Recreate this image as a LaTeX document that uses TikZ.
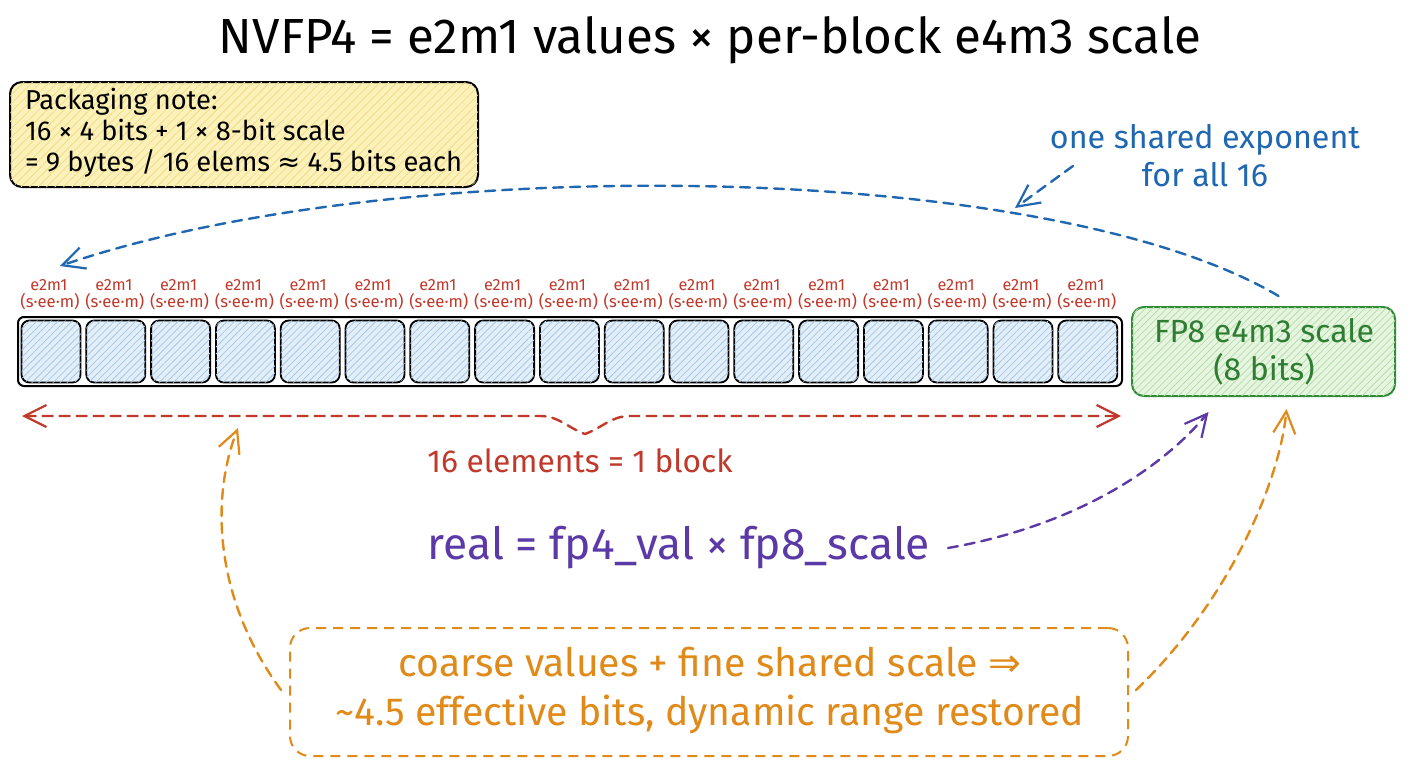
\documentclass[tikz,border=0pt]{standalone}
\usepackage{fontspec}
\setmainfont{Fira Sans}
\newfontfamily\symf{DejaVu Sans}
\usepackage{graphicx}
\usetikzlibrary{arrows.meta,patterns.meta,calc}
\definecolor{inkred}{HTML}{C0392B}
\definecolor{inkblue}{HTML}{1F67B1}
\definecolor{inkpurple}{HTML}{5B3AA8}
\definecolor{inkorange}{HTML}{E08A1A}
\definecolor{inkgreen}{HTML}{2E8B36}
\definecolor{greentext}{HTML}{2E7D32}
\definecolor{greenfill}{HTML}{E6F5E0}
\definecolor{greenhatch}{HTML}{B8DEAB}
\definecolor{yelfill}{HTML}{FCF1B8}
\definecolor{yelhatch}{HTML}{F0DC8C}
\definecolor{cellfill}{HTML}{E2EEF8}
\definecolor{cellhatch}{HTML}{A9C9E8}
\newcommand\fitw[2]{\resizebox{#1pt}{!}{#2}}
\tikzset{bb/.tip={Straight Barb[length=22pt,width=22pt,line width=2.2pt]}}
\begin{document}
\begin{tikzpicture}[x=1pt,y=-1pt,
  txt/.style={inner sep=0pt, outer sep=0pt},
  cellbox/.style={draw=black, line width=1.8pt, rounded corners=8pt, minimum width=59pt, minimum height=62pt, inner sep=0pt, fill=cellfill,
     postaction={pattern={Lines[angle=45,distance=5pt,line width=0.8pt]}, pattern color=cellhatch}},
  barb/.style={line width=2.4pt, line cap=round},
  dsh/.style={dash pattern=on 10pt off 7pt}
]
\useasboundingbox (0,0) rectangle (1408,768);
\fill[white] (0,0) rectangle (1408,768);

% title
\node[txt] (title) at (710,40) {\fitw{982}{NVFP4 = e2m1 values × per-block e4m3 scale}};

% packaging note
\node[draw=black, line width=2pt, rounded corners=12pt, minimum width=468pt, minimum height=105pt, inner sep=0pt,
      fill=yelfill, postaction={pattern={Lines[angle=45,distance=6pt,line width=0.8pt]}, pattern color=yelhatch}]
      (note) at (244,134.5) {};
\node[txt, anchor=west] (notetext) at (25,134.5) {\fitw{437}{\fontsize{10}{11.2}\selectfont\begin{tabular}{@{}l@{}}Packaging note:\\16 × 4 bits + 1 × 8-bit scale\\= 9 bytes / 16 elems {\symf ≈} 4.5 bits each\end{tabular}}};

% shared exponent text
\node[txt, text=inkblue] (shared) at (1205,160) {\fitw{310}{\fontsize{10}{11.8}\selectfont\begin{tabular}{@{}c@{}}one shared exponent\\for all 16\end{tabular}}};

% bar and cells
\node[draw=black, line width=2pt, rounded corners=6pt, minimum width=1104pt, minimum height=69pt, inner sep=0pt, fill=white] (bar) at (570,351.5) {};
\foreach \i in {0,...,16} {
  \node[cellbox] (c\i) at ({51+64.8*\i},351.5) {};
  \node[txt, text=inkred] (e\i) at ({49+64.8*\i},285) {\fitw{37}{e2m1}};
  \node[txt, text=inkred] (s\i) at ({50+64.8*\i},302) {\fitw{59}{(s·ee·m)}};
}

% FP8 box
\node[draw=inkgreen, line width=2pt, rounded corners=12pt, minimum width=263pt, minimum height=89pt, inner sep=0pt,
      fill=greenfill, postaction={pattern={Lines[angle=45,distance=5pt,line width=0.8pt]}, pattern color=greenhatch}]
      (fp8) at (1263.5,351.5) {};
\node[txt, text=greentext] (fp8text) at (1264,354) {\fitw{220}{\fontsize{10}{11.2}\selectfont\begin{tabular}{@{}c@{}}FP8 e4m3 scale\\(8 bits)\end{tabular}}};

% block brace arrow
\coordinate (rl) at (22,416);
\coordinate (rr) at (1121,416);
\draw[inkred, barb, dsh, bb-bb] (rl) -- (540,416) to[out=0,in=160] (585,434) to[out=20,in=180] (630,416) -- (rr);
\node[txt, text=inkred] (blk) at (580,461) {\fitw{305}{16 elements = 1 block}};

% real formula
\node[txt, text=inkpurple] (real) at (679,548) {\fitw{502}{real = fp4\_val × fp8\_scale}};
\draw[inkpurple, barb, dsh, -bb] ($(real.east)+(18,0)$) .. controls (1080,525) and (1165,465) .. ($(fp8.south)+(-55,15)$);

% blue shared arrows
\draw[inkblue, barb, dsh, -bb] ($(shared.west)+(23,6)$) -- (1015,208);
\draw[inkblue, barb, dsh, -bb] ($(fp8.north)+(15,-10)$) .. controls (1050,160) and (400,150) .. (60,266);

% summary box
\node[draw=inkorange, line width=2pt, dsh, rounded corners=20pt, minimum width=838pt, minimum height=128pt, inner sep=0pt]
   (summary) at (709,692) {};
\node[txt, text=inkorange] (sumtext) at (710,691)
   {\fitw{748}{\fontsize{10}{12.4}\selectfont\begin{tabular}{@{}c@{}}coarse values + fine shared scale {\symf ⇒}\\\textasciitilde 4.5 effective bits, dynamic range restored\end{tabular}}};

\draw[inkorange, barb, dsh, -bb] ($(summary.west)+(-8,-2)$) .. controls (215,600) and (210,500) .. (238,428);
\draw[inkorange, barb, dsh, -bb] ($(summary.east)+(7,-2)$) .. controls (1230,600) and (1280,480) .. ($(fp8.south)+(23,12)$);
\end{tikzpicture}
\end{document}
